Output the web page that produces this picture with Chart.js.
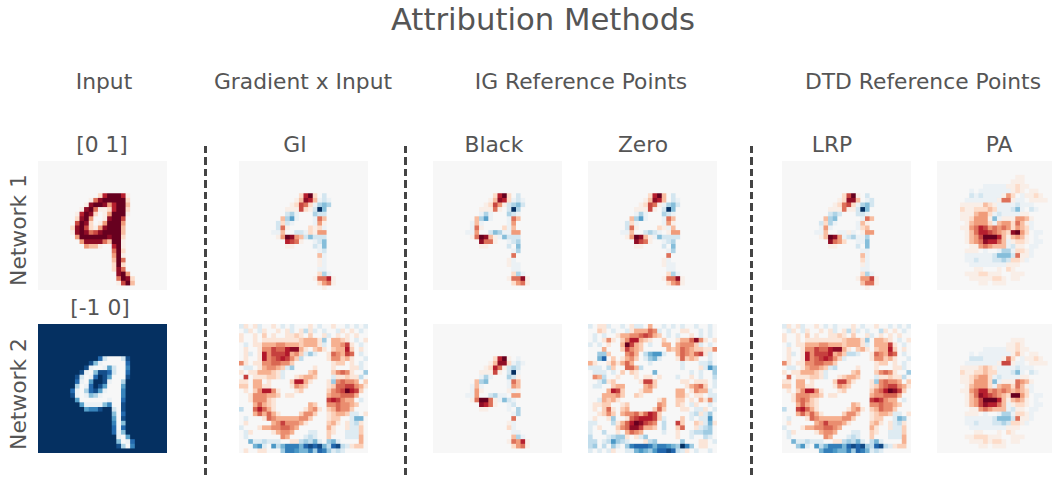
<!DOCTYPE html>
<html><head><meta charset="utf-8">
<script src="https://cdn.jsdelivr.net/npm/chart.js@4"></script>
<style>
html,body{margin:0;padding:0;background:#fff;width:1052px;height:477px;overflow:hidden;position:relative;font-family:"DejaVu Sans",sans-serif;color:#555}
.t{position:absolute;white-space:nowrap;transform:translate(-50%,-50%);font-size:21.8px;line-height:1}
.cell{position:absolute;width:129px;height:129px;overflow:hidden}
.cell canvas{display:block;width:129px!important;height:129px!important;filter:blur(.5px)}
.dash{position:absolute;width:3px;background:repeating-linear-gradient(to bottom,#444 0,#444 7.5px,transparent 7.5px,transparent 11.5px)}
</style></head><body>
<script>
// Cell codes: '.' = 0, 1..9 = positive steps, a..i = negative steps
const input1=[
"","","","","","","",
".............2799971",
"...........158999992",
"..........1899847993",
".........18951127992",
"........17982.149991",
"........2894..18996",
"........6982.149994",
".......289621489993",
".......189856899993",
"........49999998992",
".........4888853991",
"..........4331..791",
"................592",
"................491",
"................395",
"................292",
"................285",
".................894",
".................5982",
".................1693",
""];
const input2=[
"iiiiiiiiiiiiiiiiiiiiiiiiiiii","iiiiiiiiiiiiiiiiiiiiiiiiiiii","iiiiiiiiiiiiiiiiiiiiiiiiiiii","iiiiiiiiiiiiiiiiiiiiiiiiiiii","iiiiiiiiiiiiiiiiiiiiiiiiiiii","iiiiiiiiiiiiiiiiiiiiiiiiiiii","iiiiiiiiiiiiiiiiiiiiiiiiiiii",
"iiiiiiiiiiiiigb...bhiiiiiiii",
"iiiiiiiiiiihda.....giiiiiiii",
"iiiiiiiiiiha..aeb..fiiiiiiii",
"iiiiiiiiiha.dhhgb..giiiiiiii",
"iiiiiiiihb.agihe...hiiiiiiii",
"iiiiiiiiga.eiiha..ciiiiiiiii",
"iiiiiiiic.agihe...eiiiiiiiii",
"iiiiiiiga.cghea...fiiiiiiiii",
"iiiiiiiha.adca....fiiiiiiiii",
"iiiiiiiie......a..giiiiiiiii",
"iiiiiiiiieaaaadf..hiiiiiiiii",
"iiiiiiiiiieffhiib.hiiiiiiiii",
"iiiiiiiiiiiiiiiid.giiiiiiiii",
"iiiiiiiiiiiiiiiie.hiiiiiiiii",
"iiiiiiiiiiiiiiiif.diiiiiiiii",
"iiiiiiiiiiiiiiiig.giiiiiiiii",
"iiiiiiiiiiiiiiiigadiiiiiiiii",
"iiiiiiiiiiiiiiiiia.eiiiiiiii",
"iiiiiiiiiiiiiiiiid.agiiiiiii",
"iiiiiiiiiiiiiiiiihc.fiiiiiii",
"iiiiiiiiiiiiiiiiiiiiiiiiiiii"];
const giNet1=[
"","","","","","","",
".............2792.b",
"............13873aba",
"...........12652acdc",
"..........111621bid",
"..........bca...cbb",
".........3cea...a53",
"........b2ba....a41",
"........b51....212a",
".......aa3..bba2144",
"........149843bdbbb",
"..........7651..abd",
"..........11....bad",
".................ab",
".................3a",
".................1a",
".................1a",
".................aa",
".................2ca",
"................15571",
".................2451",
"..................1"];
const giNet2=[
"a1.1a..1.a.a...1.a..1..a.a.a",
".a1.a1..1.1a.1b1a.a..a1.1.a.",
"1..1.2.1..1121.2..1a.1.1.1..",
"1..1.1111111123331c.3321.a.1",
".a.113334433323331a.33461.a.",
".1..14465578831.231.23372.1.",
".1a.1746667342aca..154365.a.",
".1..174567642b.....144231..a",
"41.114455442........122.1.a.",
".aa.134432ac....1...1...11a.",
"1.1133321a.....23...24541..c",
".6.111221a..12332...a11211b.",
"11.33.1....27731...1c45443.2",
"22.3311....1432....125566431",
".1.247741...12.....24569762.",
"..1444332.11.......3445553..",
"..144421...........676433.a.",
"...35321.......32..4454432..",
"b..57531......1341.235442...",
"...353531....2442..12332aa.1",
".a...15433333442...122..add.",
".1.....34644431....231.1ab1.",
"a...133445543......31..1aa2.",
".a1....13443...aa..21..aaa2.",
".a.......43...aba..2...aaa3.",
"..daabaaa..11bcbda.cda....3.",
"...dea.ebdfffdghghdbghba122.",
".1..11...cffeddfcgfcaba....."];
const blackNet1=[
"","","","","","","",
".............2792.b",
"............13872aba",
"...........12641bcdb",
"..........11151.bic",
"..........aca...cba",
".........3cea...a53",
"........a3a.....a4",
"........a51....2a3",
".......aa4..bdcaa44",
"........159831adbbb",
"..........8551..abc",
"..........11....b.d",
".................ac",
".................5",
"................1a",
"................1aa",
".................aa",
".................2ca",
"................15581",
".................2451",
""];
const zeroNet1=[
"","","","","","","",
".............2793.b",
"............13873.ba",
"...........12651acdb",
"..........11161.bid",
"..........aca...cba",
".........3cea...a53",
"........b2a.....a41",
"........b51....21a3",
".......aa3..bcba.144",
"........149831adbbbb",
"..........8651..abc",
"..........11....b.d",
".................ac",
".................5",
"................1a",
"................1aa",
".................aa",
".................2ca",
"................15581",
".................2451",
""];
const lrpNet1=[
"","","","","","","",
".............2691.b",
"............12883.ab",
"...........12562acdb",
"..........111511bid",
"..........bcb...bba",
".........3cd.....a53",
"........b2ca....a31",
"........a4a.....a23",
".......aa3..aa1a.144",
"........13984abcaac",
"..........8542..aad",
"..........11....b.d",
".................aa",
".................3a",
".................2a",
".................1a",
".................aa",
".................2ca",
"................14461",
".................3551",
"..................1"];
const paNet1=[
"","","",
".................11",
"................111",
"..........aaaaa11211",
".......a.aaaaaaa121.11",
".......babaaaa142.a1121",
"......aaaaaaa1551aa.1111",
".....11111321aaaabaaa",
".....21122232aaabda.ba",
".....1113442abaaaa11",
".....1124441da1114431",
"......134442a3442531a",
".....114576454542432a",
"......13577654328942.aa",
"......13469997313431.a",
"......134587753a1221.aa",
".......11454333ab11.aa",
"......111.a..acca221a",
"......aaaaaabdddb511a",
"......aabaaabbcb221a",
".......aaaaaaaa111",
"........11...1.21",
"......11122111..111",
".......11111221.11",
".........11.111",
""];
const blackNet2=[
"","","","","","","",
".............2791.a",
"............13882aba",
"...........12751bcb",
"..........11161.bia",
"..........aca...cb1",
".........3cd....a53",
"........a3a.....a43",
"........a41.....1a1",
".......aa4..bcaa.44",
"........159951adba",
"..........8751..ab",
"..........11....a.c",
".................ac",
".................5",
"................1a",
"................2a",
".................aa",
".................3ca",
"................15471",
".................2451",
""];
const zeroNet2=[
"a.11a..a.1aa.3..a.a.a..a..a.",
"..21.a..a133354a.a..11..a.a.",
".a.a..1334456532.a.a..1.a.a.",
".a.141.2477321..2..1335841.1",
"a.a.1..39632.a..33.34442a.a.",
"...3...26432.....32354322114",
"..cc2...453.bdeea..3543561a.",
"..dg.2.1342.acda...15232..a.",
"31..131353...a......a...aab.",
"aaa.b2..553b........a...1aec",
".aaa.a.2.21...d.......a.a..c",
".43b..1...1.11.1...a..1.a..b",
"..ac12.....1662.....11.111.a",
".aa..233....342......13452.a",
"....3762...133.....33.1433a.",
"...33342..21.......331.11.aa",
"..a3231........13..22.1.314a",
".1122..12......43..21.a1..a.",
".1.251.23.....252...11.aa1.a",
"..1242.344535762......ab1ac.",
".1..1c..15677762a...2.a.aae.",
"aa...b135798654.b..62..21ad1",
"a.1...245886332.b..25..1abc.",
"a..b..1.3543....a..1..abbcc.",
"b...abcc1.1ac......1..a..ba.",
"bb.abecba...1bc.....c...11.a",
"bc.b.ca.cfgggfdffedcifc.11..",
"a.a.a1..aadedcegghgba1.a..a."];
const lrpNet2=[
"a1.1a..1.a.a...1.a..1..a.a.a",
".a1.a1..1.1a.1b1a.a..b1.1.a.",
"1..1.2.1..1121.2..1a.1.1.1..",
"1..1.1111111123331c.3321.a.1",
".a.113334433323331a.33361.a.",
".1..14465578831.231.23372.1.",
".1a.1746667342bba..154365.a.",
".1..174567642a.....144231..a",
"41.114455442........122.1.a.",
".aa.134432ab....1...1...11a.",
"1.1133321a.....23...24541..c",
".5.111221a..12332...a11211b.",
"11.33.1....26631...1c45443.2",
"22.3311....1432....124566431",
".1.247741...12.....24579862.",
"..1444332.11.......3445553..",
"..145421...........676433.a.",
"...35321.......32..4454432..",
"b..67531......1341.235442...",
"...353531....2442..12332aa.1",
".a...15433333442...122..adc.",
".1.....34644431....231.1ab1.",
"a...133445543......31..1aa2.",
".a1....13443...aa..21..aaa2.",
".a.......43...aba..2...aaa3.",
"..daabaaa..11bcbda.bda....3.",
"...cea.ebdfffdghghcbghba122.",
"........dffeddfcgfdaba......"];
const paNet2=[
"","","",
"................111",
"...............1121",
"..........aaaaa11211",
".......a.aaaaaaa131.11",
".......bbbaaaa152.a1121",
"......aaaaaaa1661aa.1111",
".....11112321aaaabaaa",
".....21122322aaabda.ba",
".....1123442abaaaa11",
".....1124442da1115431",
"......134442a3442531a",
".....114577454543432a",
"......13587654329942.aa",
"......13469997313431.a",
"......134687753a1221.aa",
".......11454333ab11.aa",
"......111.a..acca221a",
"......aaaaaabdddb511a",
"......aabaaabbcb221a",
".......aaaaaaaa111",
"........11...1.21",
"......11222111..111",
".......11121221.11",
".........11.111",
""];
const panelGrids=[input1,giNet1,blackNet1,zeroNet1,lrpNet1,paNet1,input2,giNet2,blackNet2,zeroNet2,lrpNet2,paNet2];
const headers=["Input","Gradient x Input","IG Reference Points","DTD Reference Points"];
const subtitles=["[0 1]","GI","Black","Zero","LRP","PA","[-1 0]"];
const rowNames=["Network 1","Network 2"];

const GRID=28, CELL=5;
const colX=[38,239,433,588,782,937], rowY=[161,324];
const stops=["#f7f7f7","#fddbc7","#f4a582","#d6604d","#b2182b","#67001f"];
const negStops=["#f7f7f7","#d1e5f0","#92c5de","#4393c3","#2166ac","#053061"];
const levelsSoft=[0,.065,.19,.31,.43,.55,.67,.78,.89,1];
const levelsNoisy=[0,.13,.25,.36,.47,.58,.69,.8,.9,1];
const noisyPanels=[7,9,10];
const rgb=h=>[1,3,5].map(i=>parseInt(h.substr(i,2),16));
function ramp(list,t){const p=t*5,i=Math.min(4,Math.floor(p)),f=p-i,a=rgb(list[i]),b=rgb(list[i+1]);
  return "rgb("+a.map((v,k)=>Math.round(v+(b[k]-v)*f)).join(",")+")";}
function colour(ch,levels){
  if(ch>="1"&&ch<="9")return ramp(stops,levels[+ch]);
  if(ch>="a"&&ch<="i")return ramp(negStops,levels[ch.charCodeAt(0)-96]);
  return stops[0];
}
function addText(s,x,y,size,rot){const d=document.createElement("div");d.className="t";d.textContent=s;
  d.style.left=x+"px";d.style.top=y+"px";if(size)d.style.fontSize=size+"px";
  if(rot)d.style.transform="translate(-50%,-50%) rotate(-90deg)";document.body.appendChild(d);}
addText("Attribution Methods",543,20,30.7);
[104,303,581,923].forEach((x,i)=>addText(headers[i],x,82));
[[102,145],[295,145],[494,145],[643,145],[832,145],[999,145],[100,308]].forEach((p,i)=>addText(subtitles[i],p[0],p[1]));
[230,394].forEach((y,i)=>addText(rowNames[i],19,y,21.8,true));
[205,405,751].forEach(x=>{const d=document.createElement("div");d.className="dash";
  d.style.left=(x-1.5)+"px";d.style.top="146px";d.style.height="331px";document.body.appendChild(d);});

panelGrids.forEach((grid,p)=>{
  const wrap=document.createElement("div");wrap.className="cell";
  wrap.style.left=colX[p%6]+"px";wrap.style.top=rowY[p<6?0:1]+"px";
  const cv=document.createElement("canvas");cv.width=GRID*CELL;cv.height=GRID*CELL;
  wrap.appendChild(cv);document.body.appendChild(wrap);
  const levels=noisyPanels.includes(p)?levelsNoisy:levelsSoft;
  const pts=[],cols=[];
  for(let r=0;r<GRID;r++){const row=(grid[r]||"").padEnd(GRID,".");
    for(let c=0;c<GRID;c++){pts.push({x:c,y:r});cols.push(colour(row[c],levels));}}
  const rad=CELL/2*Math.SQRT2;
  new Chart(cv,{type:"scatter",
    data:{datasets:[{data:pts,pointStyle:"rect",pointRadius:rad,pointBorderWidth:0,pointBackgroundColor:cols,pointHoverRadius:rad}]},
    options:{responsive:false,animation:false,events:[],layout:{padding:0,autoPadding:false},
      plugins:{legend:{display:false},tooltip:{enabled:false},title:{display:false}},
      scales:{x:{type:"linear",min:-.5,max:27.5,display:false},y:{type:"linear",reverse:true,min:-.5,max:27.5,display:false}}}});
});
</script>
</body></html>
